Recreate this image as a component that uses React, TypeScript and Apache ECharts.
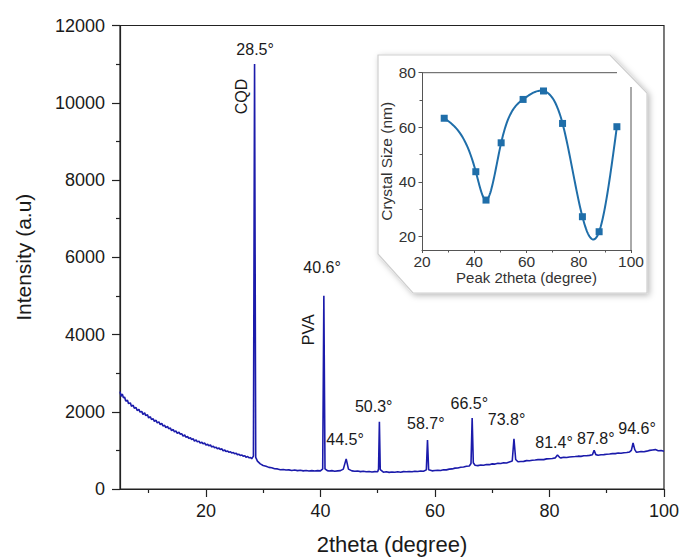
import React, { useEffect, useRef } from "react";
import * as echarts from "echarts";

// XRD scan: [2theta (degree), intensity (a.u.)]
const xrdScan: [number, number][] = [
  [5, 2520], [5.2, 2400], [5.4, 2460], [5.6, 2360], [5.8, 2380], [6, 2280], [6.3, 2300], [6.5, 2210],
  [6.8, 2230], [7, 2140], [7.3, 2170], [7.5, 2090], [7.8, 2110], [8, 2030], [8.3, 2060], [8.5, 1990],
  [8.8, 2010], [9, 1930], [9.3, 1970], [9.5, 1900], [9.8, 1920], [10, 1840], [10.3, 1870], [10.5, 1800],
  [10.8, 1820], [11, 1750], [11.3, 1780], [11.5, 1710], [11.8, 1740], [12, 1670], [12.3, 1700], [12.5, 1630],
  [12.8, 1650], [13, 1590], [13.3, 1620], [13.5, 1560], [13.8, 1580], [14, 1510], [14.3, 1540], [14.5, 1480],
  [14.8, 1500], [15, 1440], [15.3, 1470], [15.5, 1420], [15.8, 1430], [16, 1370], [16.3, 1400], [16.5, 1340],
  [16.8, 1360], [17, 1310], [17.3, 1330], [17.5, 1280], [17.8, 1300], [18, 1240], [18.3, 1270], [18.5, 1220],
  [18.8, 1240], [19, 1190], [19.3, 1210], [19.5, 1170], [19.8, 1190], [20, 1140], [20.3, 1160], [20.5, 1120],
  [20.8, 1140], [21, 1090], [21.3, 1110], [21.5, 1070], [21.8, 1080], [22, 1040], [22.3, 1060], [22.5, 1020],
  [22.8, 1040], [23, 990], [23.3, 1010], [23.5, 970], [23.8, 985], [24, 950], [24.3, 965], [24.5, 930],
  [24.8, 945], [25, 910], [25.3, 925], [25.5, 890], [25.8, 900], [26, 865], [26.3, 880], [26.5, 850],
  [26.8, 860], [27, 825], [27.3, 840], [27.5, 810], [27.8, 815], [28, 785],
  [28.3, 850], [28.5, 11000], [28.7, 820], [29, 720], [29.5, 650], [30, 610], [30.5, 590], [31, 560],
  [31.5, 550], [32, 525], [32.5, 520], [33, 500], [33.5, 505], [34, 490], [34.5, 495], [35, 480],
  [35.5, 490], [36, 475], [36.5, 485], [37, 470], [37.5, 480], [38, 465], [38.5, 475], [39, 465],
  [39.5, 475], [40, 470], [40.4, 520], [40.6, 5000], [40.8, 520], [41.2, 475], [41.5, 465], [42, 475],
  [42.5, 460], [43, 470], [43.5, 475], [44, 515], [44.5, 780], [44.9, 515], [45.5, 470], [46, 460],
  [46.5, 465], [47, 450], [47.5, 460], [48, 445], [48.5, 455], [49, 440], [49.5, 450], [50, 445],
  [50.15, 520], [50.3, 1740], [50.45, 500], [51, 435], [51.5, 445], [52, 430], [52.5, 440], [53, 435],
  [53.5, 445], [54, 435], [54.5, 450], [55, 445], [55.5, 455], [56, 445], [56.5, 460], [57, 455],
  [57.5, 465], [58, 460], [58.5, 495], [58.7, 1270], [58.9, 500], [59.5, 470], [60, 480], [60.5, 485],
  [61, 480], [61.5, 500], [62, 495], [62.5, 515], [63, 520], [63.5, 540], [64, 545], [64.5, 565],
  [65, 570], [65.5, 590], [66, 595], [66.3, 660], [66.5, 1840], [66.7, 680], [67, 615], [67.5, 605],
  [68, 620], [68.5, 615], [69, 635], [69.5, 630], [70, 650], [70.5, 645], [71, 665], [71.5, 660],
  [72, 680], [72.5, 675], [73, 700], [73.5, 725], [73.8, 1300], [74.1, 765], [74.5, 705], [75, 710],
  [75.5, 715], [76, 735], [76.5, 730], [77, 745], [77.5, 750], [78, 760], [78.5, 765], [79, 760],
  [79.5, 780], [80, 785], [80.5, 790], [81, 805], [81.4, 880], [81.8, 815], [82, 805], [82.5, 820],
  [83, 815], [83.5, 830], [84, 835], [84.5, 840], [85, 850], [85.5, 845], [86, 860], [86.5, 860],
  [87, 870], [87.5, 885], [87.8, 1000], [88.1, 890], [88.5, 875], [89, 885], [89.5, 890], [90, 900],
  [90.5, 905], [91, 915], [91.5, 915], [92, 930], [92.5, 925], [93, 940], [93.5, 945], [94, 960],
  [94.3, 1000], [94.6, 1190], [94.9, 1020], [95.2, 950], [95.5, 960], [96, 970], [96.5, 965], [97, 980],
  [97.5, 1000], [98, 1010], [98.5, 1020], [99, 990], [99.5, 995], [100, 975],
];

// Peak annotations (label text and label anchor in data coordinates)
const peakLabels = ["28.5°", "40.6°", "44.5°", "50.3°", "58.7°", "66.5°", "73.8°", "81.4°", "87.8°", "94.6°"];
const peakLabelX = [28.6, 40.3, 44.3, 49.3, 58.4, 66.0, 72.5, 80.8, 88.1, 95.3];
const peakLabelY = [11375, 5728, 1270, 2125, 1685, 2203, 1788, 1192, 1296, 1555];

// Phase annotations (rotated)
const phaseLabels = ["CQD", "PVA"];
const phaseLabelX = [26.2, 37.9];
const phaseLabelY = [10160, 4121];

// Inset: crystal size vs peak position
const insetPeak2Theta = [28.5, 40.6, 44.5, 50.3, 58.7, 66.5, 73.8, 81.4, 87.8, 94.6];
const insetCrystalSize = [63.3, 43.7, 33.3, 54.3, 70.2, 73.3, 61.4, 27.2, 21.7, 60.2];

// Tick labels
const mainXMajor = [20, 40, 60, 80, 100];
const mainXMinor = [10, 30, 50, 70, 90];
const insetYMajor = [20, 40, 60, 80];
const insetYMinor = [30, 50, 70];

const FONT = "Liberation Sans, Arial, Helvetica, sans-serif";
const TXT = "#1a1a1a";
const AX = "#222";
const INSET_TXT = "#333";
const INSET_BLUE = "#1f6ea9";

// Natural cubic spline second derivatives (used only to draw the connecting curve)
function splineM(xs: number[], ys: number[]): number[] {
  const n = xs.length;
  const m = new Array(n).fill(0);
  const a: number[] = new Array(n).fill(0);
  const b: number[] = new Array(n).fill(0);
  const c: number[] = new Array(n).fill(0);
  const d: number[] = new Array(n).fill(0);
  b[0] = 1;
  b[n - 1] = 1;
  for (let i = 1; i < n - 1; i++) {
    const h0 = xs[i] - xs[i - 1];
    const h1 = xs[i + 1] - xs[i];
    a[i] = h0;
    b[i] = 2 * (h0 + h1);
    c[i] = h1;
    d[i] = 6 * ((ys[i + 1] - ys[i]) / h1 - (ys[i] - ys[i - 1]) / h0);
  }
  for (let i = 1; i < n; i++) {
    const w = a[i] / b[i - 1];
    b[i] -= w * c[i - 1];
    d[i] -= w * d[i - 1];
  }
  m[n - 1] = d[n - 1] / b[n - 1];
  for (let i = n - 2; i >= 0; i--) m[i] = (d[i] - c[i] * m[i + 1]) / b[i];
  return m;
}

export default function App() {
  const ref = useRef<HTMLDivElement>(null);

  useEffect(() => {
    if (!ref.current) return;
    const chart = echarts.init(ref.current, null, { renderer: "svg" });

    const mainGrid = { left: 120, top: 25.5, width: 547, height: 463.5 };
    const inset = { left: 422, top: 72.7, width: 209, height: 177.3 };
    const plain = (v: number) => String(v);

    const M = splineM(insetPeak2Theta, insetCrystalSize);

    const renderSpline = (params: any, api: any) => {
      if (params.dataIndex !== 0) return null;
      const xs = insetPeak2Theta;
      const ys = insetCrystalSize;
      const pts: number[][] = [];
      for (let i = 0; i < xs.length - 1; i++) {
        const h = xs[i + 1] - xs[i];
        const steps = 24;
        for (let s = 0; s <= steps; s++) {
          if (i > 0 && s === 0) continue;
          const x = xs[i] + (h * s) / steps;
          const A = (xs[i + 1] - x) / h;
          const B = (x - xs[i]) / h;
          const y =
            A * ys[i] +
            B * ys[i + 1] +
            ((A * A * A - A) * M[i] + (B * B * B - B) * M[i + 1]) * (h * h) / 6;
          pts.push(api.coord([x, y]));
        }
      }
      return {
        type: "polyline",
        shape: { points: pts },
        style: { stroke: INSET_BLUE, lineWidth: 2, fill: "none" },
        silent: true,
      };
    };

    const option: any = {
      animation: false,
      backgroundColor: "#fff",
      textStyle: { fontFamily: FONT, color: TXT },
      grid: [
        {
          ...mainGrid,
          show: true,
          borderColor: AX,
          borderWidth: 1.2,
          backgroundColor: "transparent",
          containLabel: false,
        },
        { ...inset, containLabel: false },
      ],
      xAxis: [
        {
          gridIndex: 0,
          type: "value",
          min: 5,
          max: 100,
          position: "bottom",
          name: "2theta (degree)",
          nameLocation: "middle",
          nameGap: 44,
          nameTextStyle: { fontSize: 22, color: TXT, fontFamily: FONT },
          axisLine: { show: true, onZero: false, lineStyle: { color: AX, width: 1.2 } },
          axisTick: { show: true, customValues: mainXMajor, length: 8, lineStyle: { color: AX, width: 1.2 } },
          axisLabel: { customValues: mainXMajor, fontSize: 18, margin: 13, color: TXT, fontFamily: FONT, formatter: plain },
          splitLine: { show: false },
        },
        {
          gridIndex: 0,
          type: "value",
          min: 5,
          max: 100,
          position: "bottom",
          axisLine: { show: false },
          axisTick: { show: true, customValues: mainXMinor, length: 4, lineStyle: { color: AX, width: 1.2 } },
          axisLabel: { show: false },
          splitLine: { show: false },
        },
        {
          gridIndex: 1,
          type: "value",
          min: 20,
          max: 100,
          interval: 20,
          position: "bottom",
          name: "Peak 2theta (degree)",
          nameLocation: "middle",
          nameGap: 20,
          nameTextStyle: { fontSize: 15, color: INSET_TXT, fontFamily: FONT },
          axisLine: { show: true, onZero: false, lineStyle: { color: "#555", width: 1 } },
          axisTick: { show: true, length: 3, lineStyle: { color: "#555" } },
          minorTick: { show: true, splitNumber: 2, length: 2.5, lineStyle: { color: "#555" } },
          axisLabel: { fontSize: 15.5, margin: 3, color: INSET_TXT, fontFamily: FONT, formatter: plain },
          splitLine: { show: false },
          z: 3,
        },
      ],
      yAxis: [
        {
          gridIndex: 0,
          type: "value",
          min: 0,
          max: 12000,
          interval: 2000,
          name: "Intensity (a.u)",
          nameLocation: "middle",
          nameGap: 86,
          nameTextStyle: { fontSize: 21, color: TXT, fontFamily: FONT },
          axisLine: { show: true, onZero: false, lineStyle: { color: AX, width: 1.2 } },
          axisTick: { show: true, length: 8, lineStyle: { color: AX, width: 1.2 } },
          minorTick: { show: true, splitNumber: 2, length: 4, lineStyle: { color: AX, width: 1.2 } },
          axisLabel: { fontSize: 18, margin: 15, color: TXT, fontFamily: FONT, formatter: plain },
          splitLine: { show: false },
        },
        {
          gridIndex: 1,
          type: "value",
          min: 15,
          max: 80,
          position: "left",
          name: "Crystal Size (nm)",
          nameLocation: "middle",
          nameGap: 20,
          nameTextStyle: { fontSize: 15.5, color: INSET_TXT, fontFamily: FONT },
          axisLine: { show: true, onZero: false, lineStyle: { color: "#555", width: 1 } },
          axisTick: { show: true, customValues: insetYMajor, length: 3.5, lineStyle: { color: "#555" } },
          axisLabel: { customValues: insetYMajor, fontSize: 15.5, margin: 6, color: INSET_TXT, fontFamily: FONT, formatter: plain },
          splitLine: { show: false },
          z: 3,
        },
        {
          gridIndex: 1,
          type: "value",
          min: 15,
          max: 80,
          position: "left",
          axisLine: { show: false },
          axisTick: { show: true, customValues: insetYMinor, length: 2.5, lineStyle: { color: "#555" } },
          axisLabel: { show: false },
          splitLine: { show: false },
          z: 3,
        },
      ],
      graphic: [
        {
          type: "polygon",
          z: 1,
          shape: {
            points: [
              [378, 55],
              [610, 55],
              [647, 93],
              [647, 293],
              [413, 293],
              [378, 254],
            ],
          },
          style: {
            fill: "#fff",
            stroke: "#cfcfcf",
            lineWidth: 1.2,
            shadowBlur: 6,
            shadowColor: "rgba(0,0,0,0.28)",
            shadowOffsetX: 2,
            shadowOffsetY: 2,
          },
        },
        {
          type: "line",
          z: 2,
          shape: { x1: inset.left, y1: inset.top, x2: 617, y2: inset.top },
          style: { stroke: "#555", lineWidth: 1 },
        },
        {
          type: "line",
          z: 2,
          shape: { x1: inset.left + inset.width, y1: 87, x2: inset.left + inset.width, y2: inset.top + inset.height },
          style: { stroke: "#555", lineWidth: 1 },
        },
      ],
      series: [
        {
          type: "line",
          xAxisIndex: 0,
          yAxisIndex: 0,
          data: xrdScan,
          showSymbol: false,
          symbol: "none",
          lineStyle: { color: "#1b1bab", width: 1.6 },
          silent: true,
          z: 2,
        },
        {
          type: "scatter",
          xAxisIndex: 0,
          yAxisIndex: 0,
          symbolSize: 0,
          silent: true,
          itemStyle: { opacity: 1 },
          data: peakLabels.map((n, i) => ({ name: n, value: [peakLabelX[i], peakLabelY[i]] })),
          label: {
            show: true,
            position: "inside",
            formatter: "{b}",
            fontSize: 16,
            color: TXT,
            opacity: 1,
            fontFamily: FONT,
          },
          z: 3,
        },
        {
          type: "scatter",
          xAxisIndex: 0,
          yAxisIndex: 0,
          symbolSize: 0,
          silent: true,
          itemStyle: { opacity: 1 },
          data: phaseLabels.map((n, i) => ({ name: n, value: [phaseLabelX[i], phaseLabelY[i]] })),
          label: {
            show: true,
            position: "inside",
            formatter: "{b}",
            rotate: 90,
            fontSize: 16,
            color: TXT,
            opacity: 1,
            fontFamily: FONT,
          },
          z: 3,
        },
        {
          type: "custom",
          xAxisIndex: 2,
          yAxisIndex: 1,
          data: insetPeak2Theta.map((x, i) => [x, insetCrystalSize[i]]),
          encode: { x: 0, y: 1 },
          renderItem: renderSpline,
          silent: true,
          z: 5,
        },
        {
          type: "scatter",
          xAxisIndex: 2,
          yAxisIndex: 1,
          data: insetPeak2Theta.map((x, i) => [x, insetCrystalSize[i]]),
          symbol: "rect",
          symbolSize: 7,
          itemStyle: { color: INSET_BLUE, opacity: 1 },
          silent: true,
          z: 6,
        },
      ],
    };

    chart.setOption(option);
    return () => chart.dispose();
  }, []);

  return (
    <div
      ref={ref}
      style={{ position: "fixed", left: 0, top: 0, width: 682, height: 560, background: "#fff" }}
    />
  );
}
